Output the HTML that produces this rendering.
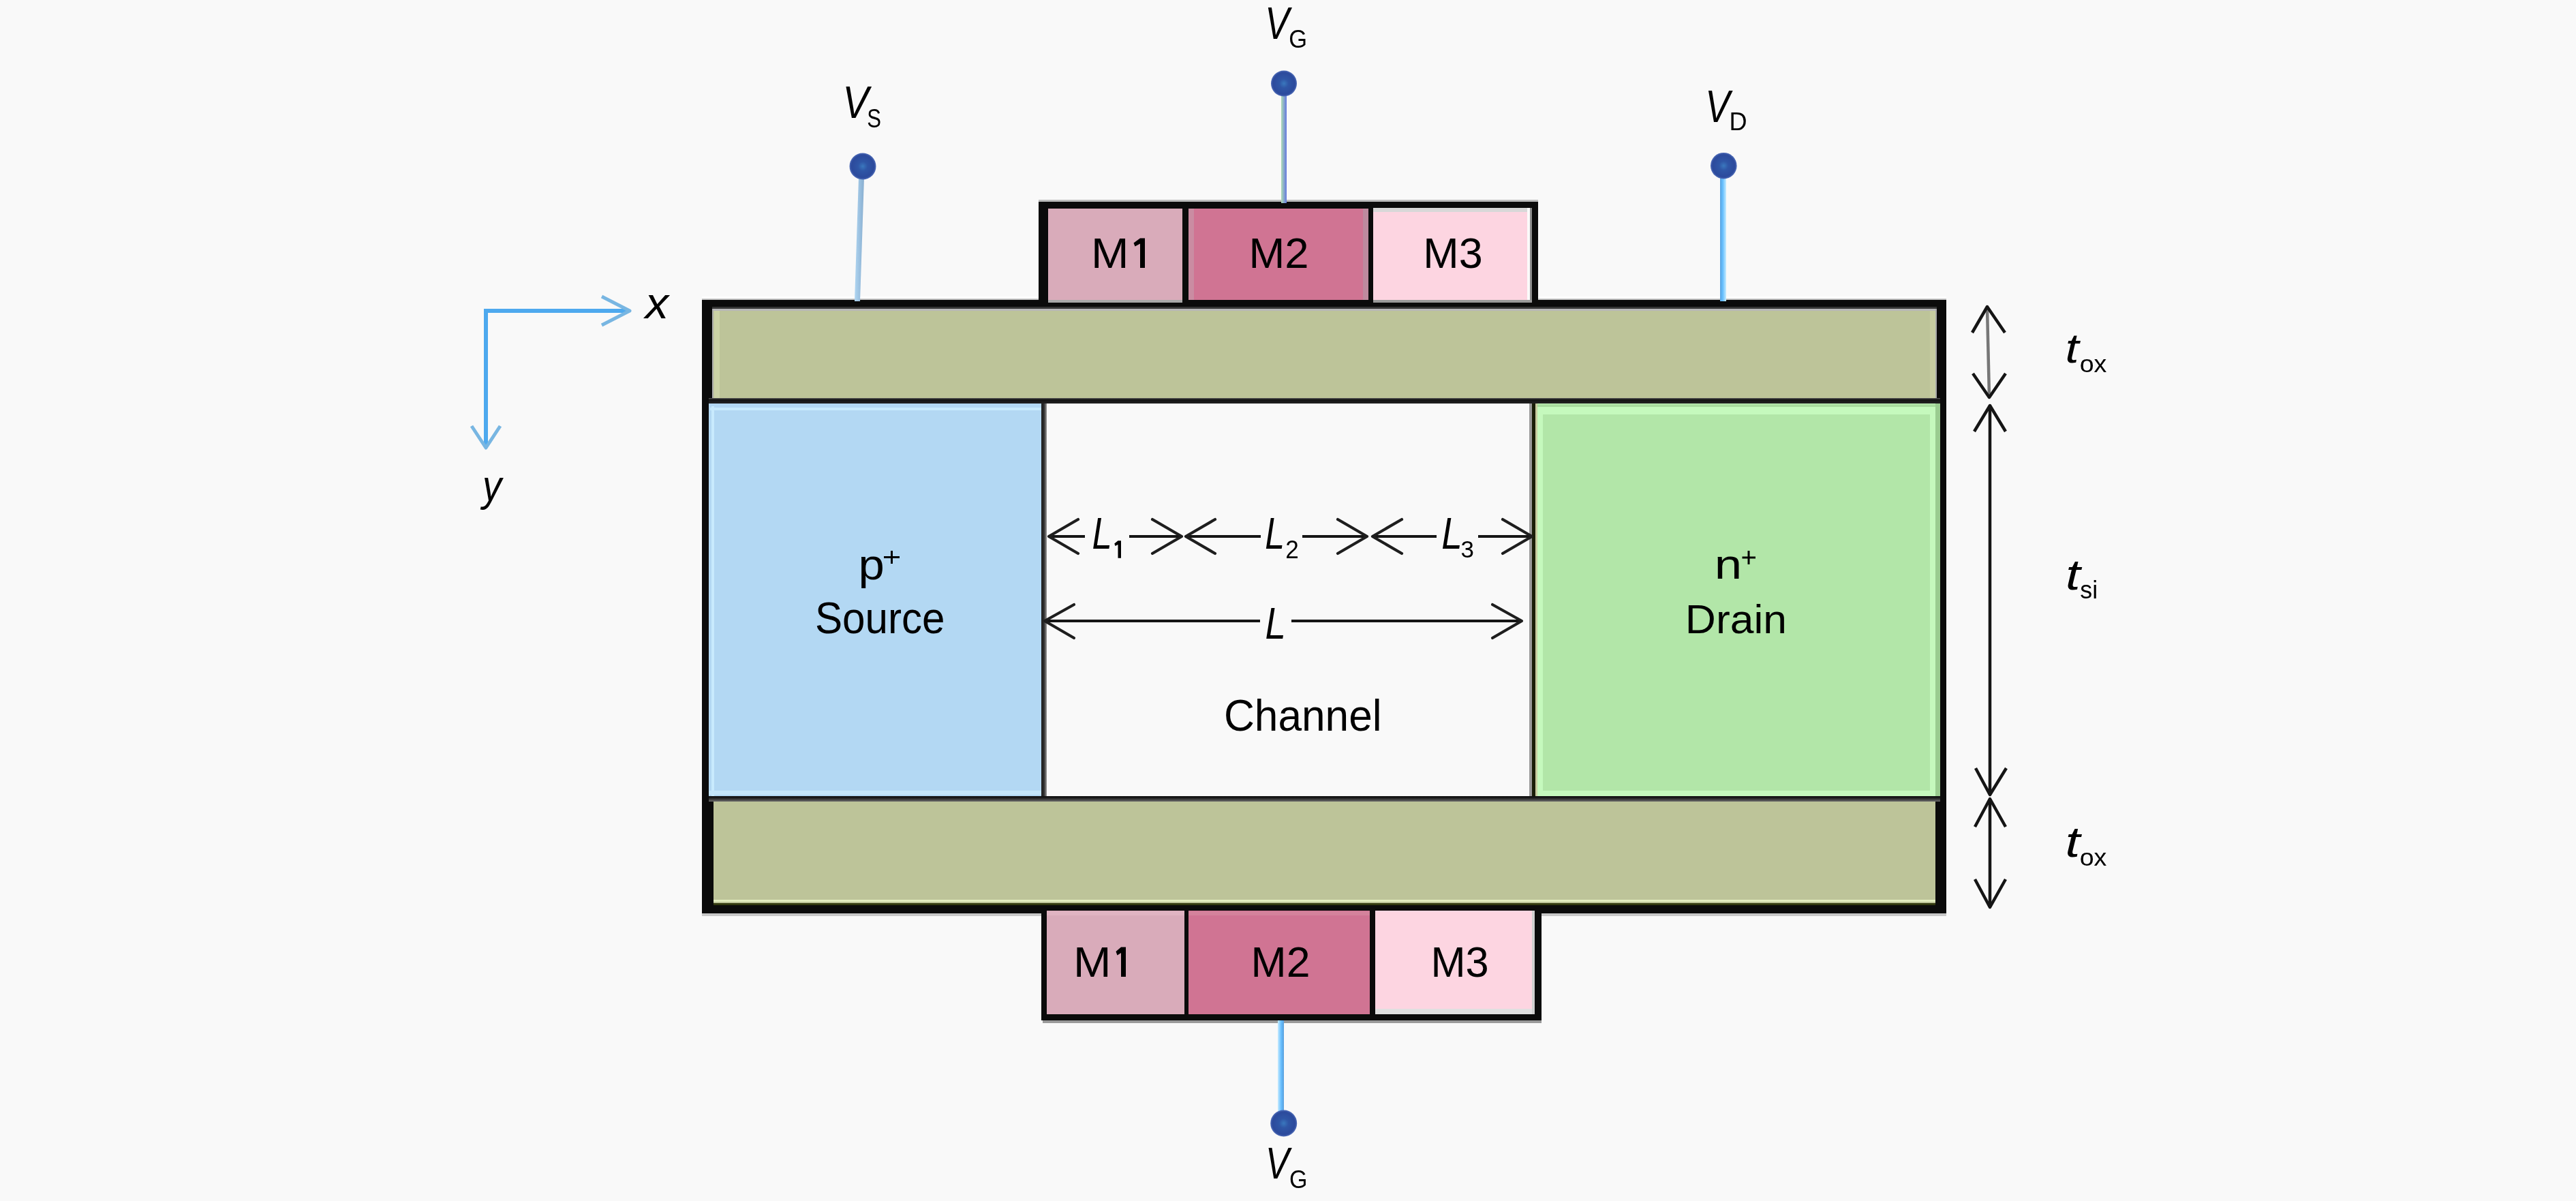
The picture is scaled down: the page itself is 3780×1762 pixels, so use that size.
<!DOCTYPE html>
<html><head><meta charset="utf-8"><style>
html,body{margin:0;padding:0;background:#F9F9F9;width:3780px;height:1762px;overflow:hidden}
svg{display:block;position:absolute;left:0;top:0}
text{font-family:"Liberation Sans",sans-serif;fill:#000}
svg text{will-change:transform}
</style></head><body>
<svg width="3780" height="1762" viewBox="0 0 3780 1762">
<defs>
<linearGradient id="gvg" x1="0" x2="1" y1="0" y2="0"><stop offset="0" stop-color="#AEDDB6"/><stop offset="1" stop-color="#6478DF"/></linearGradient>
<linearGradient id="gvd" x1="0" x2="1" y1="0" y2="0"><stop offset="0" stop-color="#5AA3E0"/><stop offset="0.45" stop-color="#68C0FF"/><stop offset="1" stop-color="#C8ECFF"/></linearGradient>
<linearGradient id="gvgb" x1="0" x2="1" y1="0" y2="0"><stop offset="0" stop-color="#C8ECFF"/><stop offset="0.55" stop-color="#66BEFF"/><stop offset="1" stop-color="#5AA0DC"/></linearGradient>
<linearGradient id="gvs" x1="0" x2="1" y1="0" y2="0"><stop offset="0" stop-color="#B0D6F2"/><stop offset="1" stop-color="#88AED0"/></linearGradient>
<radialGradient id="gdot" cx="0.5" cy="0.5" r="0.5"><stop offset="0" stop-color="#3A78BE"/><stop offset="0.35" stop-color="#2F56A6"/><stop offset="0.85" stop-color="#2C4A9C"/><stop offset="1" stop-color="#4E6CB8"/></radialGradient>
<linearGradient id="gdiv1" x1="0" x2="1" y1="0" y2="0"><stop offset="0" stop-color="#1E1E1E"/><stop offset="0.5" stop-color="#2E2E2E"/><stop offset="1" stop-color="#9A9A9A"/></linearGradient>
<linearGradient id="ghl" x1="0" x2="0" y1="0" y2="1"><stop offset="0" stop-color="#5A5A5A"/><stop offset="0.3" stop-color="#131313"/><stop offset="1" stop-color="#222"/></linearGradient>
<linearGradient id="ghl2" x1="0" x2="0" y1="0" y2="1"><stop offset="0" stop-color="#0E0E0E"/><stop offset="0.3" stop-color="#1A1A1A"/><stop offset="1" stop-color="#6C6C6C"/></linearGradient>
</defs>
<rect x="0" y="0" width="3780" height="1762" fill="#F9F9F9"/>
<!-- main frame -->
<rect x="1030" y="440" width="1826" height="900" fill="#0b0b0b"/>
<rect x="1030" y="1340" width="1826" height="4" fill="#C8C8C8"/>
<rect x="1047" y="456" width="1793" height="128" fill="#BDC499"/>
<rect x="1030" y="435" width="494" height="3" fill="#FFFFFF"/>
<rect x="1030" y="438" width="494" height="2" fill="#C4C4C4"/>
<rect x="2257" y="435" width="599" height="3" fill="#FFFFFF"/>
<rect x="2257" y="438" width="599" height="2" fill="#C4C4C4"/>
<rect x="1045" y="450" width="1797" height="3" fill="#353535"/>
<rect x="1045" y="453" width="1797" height="3" fill="#B8B8B8"/>
<rect x="1045" y="453" width="2" height="131" fill="#B0B0B0"/>
<rect x="2840" y="453" width="2" height="131" fill="#A8A8A8"/>
<rect x="1048" y="456" width="8" height="128" fill="#CBD2A6"/>
<rect x="2832" y="456" width="8" height="128" fill="#C6CCA0"/>
<rect x="1040" y="584" width="1807" height="8" fill="url(#ghl)"/>
<rect x="1040" y="592" width="488" height="576" fill="#B3D8F3"/>
<rect x="1042" y="598" width="486" height="4" fill="#C8EAFD"/>
<rect x="1044" y="596" width="4" height="572" fill="#C8EAFD"/>
<rect x="1040" y="1160" width="488" height="6" fill="#C4E6FA"/>
<rect x="1528" y="592" width="8" height="576" fill="url(#gdiv1)"/>
<rect x="1536" y="592" width="708" height="576" fill="#F9F9F9"/>
<rect x="2244" y="592" width="4" height="576" fill="#9A9A9A"/>
<rect x="2248" y="592" width="5" height="576" fill="#1A1E08"/>
<rect x="2253" y="592" width="3" height="576" fill="#C8CCA0"/>
<rect x="2256" y="592" width="584" height="576" fill="#C5F9BD"/>
<rect x="2256" y="593" width="584" height="4" fill="#A8DC9E"/>
<rect x="2264" y="608" width="568" height="552" fill="#B2E6A8"/>
<rect x="2840" y="592" width="7" height="576" fill="#9ACC90"/>
<rect x="1040" y="1168" width="1807" height="8" fill="url(#ghl2)"/>
<rect x="1047" y="1176" width="1793" height="152" fill="#BDC499"/>
<rect x="1047" y="1320" width="1793" height="3" fill="#E4EEC0"/>
<rect x="1047" y="1325" width="1793" height="3" fill="#333A10"/>
<!-- top gate -->
<rect x="1524" y="293" width="733" height="4" fill="#BDBDBD"/>
<rect x="1524" y="296" width="733" height="144" fill="#0b0b0b"/>
<rect x="1538" y="306" width="197" height="134" fill="#D9ABBA"/>
<rect x="1538" y="440" width="197" height="4" fill="#A8A8A8"/>
<rect x="1744" y="306" width="264" height="134" fill="#D07493"/>
<rect x="1744" y="306" width="8" height="134" fill="#CA8CA2"/>
<rect x="2000" y="306" width="8" height="134" fill="#BE8A9E"/>
<rect x="2015" y="306" width="228" height="134" fill="#FDD5E1"/>
<rect x="2015" y="305" width="228" height="6" fill="#D8D8D8"/>
<rect x="2241" y="305" width="4" height="135" fill="#FAFAFA"/>
<rect x="2245" y="305" width="3" height="135" fill="#8C8C8C"/>
<rect x="2015" y="440" width="233" height="4" fill="#9A9A9A"/>
<!-- bottom gate -->
<rect x="1528" y="1328" width="734" height="169" fill="#0b0b0b"/>
<rect x="1530" y="1497" width="732" height="4" fill="#9A9A9A"/>
<rect x="1536" y="1336" width="202" height="152" fill="#D9ABBA"/>
<rect x="1536" y="1337" width="202" height="6" fill="#E0B4C2"/>
<rect x="1744" y="1336" width="266" height="152" fill="#D07493"/>
<rect x="1744" y="1337" width="266" height="6" fill="#D4829C"/>
<rect x="2018" y="1336" width="234" height="152" fill="#FDD5E1"/>
<rect x="2018" y="1480" width="234" height="8" fill="#E0E0E0"/>
<rect x="2248" y="1336" width="4" height="152" fill="#D0D0D0"/>
<!-- terminals -->
<rect x="1880" y="138" width="8" height="160" fill="url(#gvg)"/>
<polygon points="1260,260 1268,260 1262,442 1254,442" fill="url(#gvs)"/>
<rect x="2524" y="258" width="9" height="184" fill="url(#gvd)"/>
<rect x="1875" y="1497" width="9" height="136" fill="url(#gvgb)"/>
<g fill="url(#gdot)">
<circle cx="1884" cy="122.5" r="19"/>
<circle cx="1266" cy="244" r="19.5"/>
<circle cx="2529.3" cy="243.2" r="19.3"/>
<circle cx="1883.7" cy="1648" r="19.5"/>
</g>
<!-- axes -->
<g stroke="#4EA9EE" stroke-width="6" fill="none">
<polyline points="922,456 713,456 713,655"/>
</g>
<g stroke="#78B6E2" stroke-width="5" fill="none" stroke-linejoin="round">
<polyline points="883,435 924,456 883,477"/>
<polyline points="692,625 713,657 734,625"/>
</g>
<!-- length arrows -->
<g stroke="#151515" stroke-width="4" fill="none">
<line x1="1539" y1="787" x2="1592" y2="787"/>
<line x1="1657" y1="787" x2="1734" y2="787"/>
<line x1="1740" y1="787" x2="1850" y2="787"/>
<line x1="1911" y1="787" x2="2006" y2="787"/>
<line x1="2014" y1="787" x2="2108" y2="787"/>
<line x1="2169" y1="787" x2="2248" y2="787"/>
<line x1="1533" y1="911" x2="1849" y2="911"/>
<line x1="1895" y1="911" x2="2233" y2="911"/>
</g>
<g stroke="#1E1E1E" stroke-width="4.2" fill="none" stroke-linejoin="round" stroke-linecap="round">
<polyline points="1582,762 1539,787 1582,812"/>
<polyline points="1691,762 1734,787 1691,812"/>
<polyline points="1783,762 1740,787 1783,812"/>
<polyline points="1963,762 2006,787 1963,812"/>
<polyline points="2057,762 2014,787 2057,812"/>
<polyline points="2205,762 2248,787 2205,812"/>
<polyline points="1576,887 1533,911 1576,936"/>
<polyline points="2190,887 2233,911 2190,936"/>
</g>
<!-- thickness arrows -->
<g stroke="#151515" stroke-width="4.5" fill="none" stroke-linejoin="round">
<line x1="2916" y1="452" x2="2919" y2="581" stroke="#777"/>
<polyline points="2894,488 2916,450 2942,488"/>
<polyline points="2895,548 2919,583 2943,548"/>
<line x1="2920" y1="595" x2="2920" y2="1166"/>
<polyline points="2897,633 2920,595 2943,633"/>
<polyline points="2899,1127 2920,1166 2944,1127"/>
<line x1="2920" y1="1172" x2="2920" y2="1331"/>
<polyline points="2898,1213 2920,1172 2943,1213"/>
<polyline points="2898,1290 2920,1331 2943,1290"/>
</g>

<g stroke="#000" stroke-width="3" fill="none">
<line x1="1297" y1="817.5" x2="1320" y2="817.5"/><line x1="1308.5" y1="808" x2="1308.5" y2="827"/>
<line x1="2556.5" y1="818" x2="2576" y2="818"/><line x1="2566" y1="808" x2="2566" y2="828"/>
</g>
<g fill="#000">
<path d="M1673,349.5 L1680,349.5 L1680,393 L1673,393 L1673,357.5 L1665.5,361.5 L1663.5,356.5 Z"/>
<path d="M1645,1389.5 L1652,1389.5 L1652,1433 L1645,1433 L1645,1398 L1639.5,1401.5 L1637.5,1396 Z"/>
<path d="M1640.5,793.3 L1645,793.3 L1645,818.7 L1640.5,818.7 L1640.5,799 L1636.5,801 L1635.3,797.5 Z"/>
</g>

<text transform="translate(1856.32 57.00) scale(0.7986 1)" font-size="66.91" font-style="italic">V</text>
<text transform="translate(1891.28 70.22) scale(0.9172 1)" font-size="37.60">G</text>
<text transform="translate(1236.49 173.40) scale(0.8613 1)" font-size="66.47" font-style="italic">V</text>
<text transform="translate(1272.30 186.62) scale(0.8157 1)" font-size="38.16">S</text>
<text transform="translate(2502.24 178.60) scale(0.8123 1)" font-size="66.91" font-style="italic">V</text>
<text transform="translate(2537.62 191.20) scale(0.9587 1)" font-size="37.67">D</text>
<text transform="translate(1856.93 1729.00) scale(0.8103 1)" font-size="64.44" font-style="italic">V</text>
<text transform="translate(1892.10 1743.13) scale(0.9083 1)" font-size="37.46">G</text>
<text transform="translate(1601.00 393.00) scale(1.0536 1)" font-size="63.27">M</text>
<text transform="translate(1832.52 393.00) scale(1.0053 1)" font-size="63.08">M2</text>
<text transform="translate(2088.30 392.62) scale(1.0068 1)" font-size="62.54">M3</text>
<text transform="translate(1575.00 1433.00) scale(1.0536 1)" font-size="63.27">M</text>
<text transform="translate(1835.58 1433.00) scale(1.0041 1)" font-size="62.37">M2</text>
<text transform="translate(2099.44 1432.88) scale(0.9871 1)" font-size="62.19">M3</text>
<text transform="translate(946.75 467.00) scale(1.0662 1)" font-size="64.45" font-style="italic">x</text>
<text transform="translate(708.09 734.73) scale(0.8788 1)" font-size="63.95" font-style="italic">y</text>
<text transform="translate(1259.52 849.69) scale(1.0990 1)" font-size="62.68">p</text>
<text transform="translate(1195.99 928.66) scale(0.9396 1)" font-size="64.03">Source</text>
<text transform="translate(2515.70 849.30) scale(1.1729 1)" font-size="61.95">n</text>
<text transform="translate(2472.85 928.70) scale(1.0429 1)" font-size="59.86">Drain</text>
<text transform="translate(1795.89 1072.05) scale(0.9525 1)" font-size="65.31">Channel</text>
<text transform="translate(1602.42 804.70) scale(0.8113 1)" font-size="65.02" font-style="italic">L</text>
<text transform="translate(1856.14 804.70) scale(0.7977 1)" font-size="65.02" font-style="italic">L</text>
<text transform="translate(1886.24 818.70) scale(0.9434 1)" font-size="37.28">2</text>
<text transform="translate(2115.35 805.00) scale(0.8394 1)" font-size="65.45" font-style="italic">L</text>
<text transform="translate(2143.39 818.34) scale(0.9734 1)" font-size="35.90">3</text>
<text transform="translate(1856.46 936.90) scale(0.8346 1)" font-size="65.31" font-style="italic">L</text>
<text transform="translate(3030.51 532.39) scale(1.1829 1)" font-size="60.84" font-style="italic">t</text>
<text transform="translate(3051.70 546.36) scale(1.1010 1)" font-size="34.16">ox</text>
<text transform="translate(3031.10 865.17) scale(1.2409 1)" font-size="62.66" font-style="italic">t</text>
<text transform="translate(3052.31 878.37) scale(0.9497 1)" font-size="37.76">si</text>
<text transform="translate(3030.47 1256.88) scale(1.2651 1)" font-size="62.05" font-style="italic">t</text>
<text transform="translate(3051.70 1270.45) scale(1.0780 1)" font-size="34.89">ox</text>
</svg>
</body></html>
